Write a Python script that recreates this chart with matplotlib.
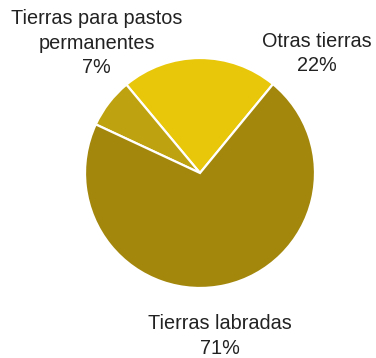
import matplotlib
matplotlib.use("Agg")
import matplotlib.pyplot as plt

categories = ["Otras tierras", "Tierras para pastos\npermanentes", "Tierras labradas"]
shares = [22, 7, 71]
colors = ["#E8C70B", "#BFA20F", "#A3870C"]

plt.rcParams["font.family"] = ["Liberation Sans", "DejaVu Sans"]

fig = plt.figure(figsize=(3.76, 3.58), dpi=100)
ax = fig.add_axes([0, 0, 1, 1])
ax.pie(shares, colors=colors, startangle=50.6, counterclock=True, radius=1,
       wedgeprops=dict(edgecolor="white", linewidth=1.6))
R = 115.0
ax.set_xlim(-200 / R, 176 / R)
ax.set_ylim(-(358 - 173) / R, 173 / R)
ax.set_aspect("equal")
ax.axis("off")

label_pos = [(1.02, 1.04), (-0.90, 1.13), (0.174, -1.42)]
for name, val, (x, y) in zip(categories, shares, label_pos):
    ax.text(x, y, f"{name}\n{val}%", ha="center", va="center", fontsize=14.3,
            color="#222222", linespacing=1.38)

fig.savefig("out.png", dpi=100)
